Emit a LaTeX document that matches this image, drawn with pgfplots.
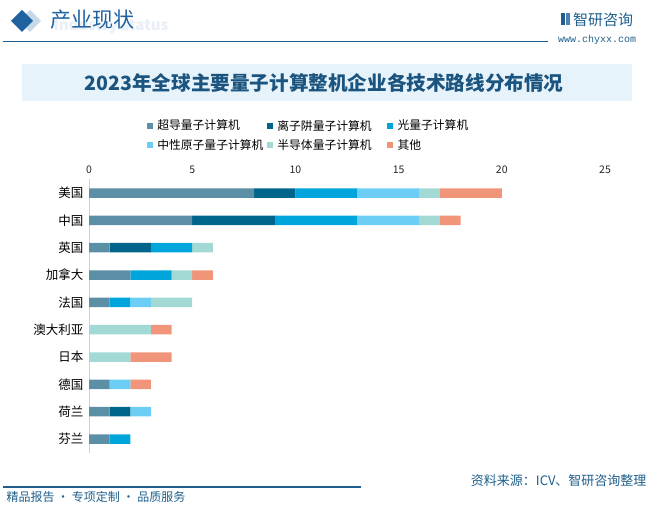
\documentclass[border=0pt]{standalone}
\usepackage{fontspec}
\setmainfont{Noto Sans CJK SC}
\newfontfamily\monoen{Liberation Mono}
\usepackage{pgfplots}
\pgfplotsset{compat=1.18}

\definecolor{cSup}{HTML}{5B8FA6}
\definecolor{cIon}{HTML}{00658A}
\definecolor{cPho}{HTML}{00A5DC}
\definecolor{cNeu}{HTML}{6DCEF5}
\definecolor{cSem}{HTML}{A3D9D5}
\definecolor{cOth}{HTML}{F0957A}
\definecolor{hdr}{HTML}{1F62A0}
\definecolor{hdrline}{HTML}{1F5F8B}
\definecolor{titlebg}{HTML}{E7F3FA}
\definecolor{titlefg}{HTML}{1B557F}

% y: 9 US, 8 China, 7 UK, 6 Canada, 5 France, 4 Australia, 3 Japan, 2 Germany, 1 Netherlands, 0 Finland
\pgfplotstableread{
y sup ion pho neu sem oth
9 8 2 3 3 1 3
8 5 4 4 3 1 1
7 1 2 2 0 1 0
6 2 0 2 0 1 1
5 1 0 1 1 2 0
4 0 0 0 0 3 1
3 0 0 0 0 2 2
2 1 0 0 1 0 1
1 1 1 0 1 0 0
0 1 0 1 0 0 0
}\routes

\newcommand\lgbox[1]{\makebox[110pt][l]{#1}}

\begin{document}
\begin{tikzpicture}[x=1pt,y=1pt]
\path[use as bounding box] (0,0) rectangle (652,506);

% header
\node[anchor=west, text=hdr!10, font=\bfseries\fontsize{15}{15}\selectfont] at (50,480) {Industry status};
\fill[hdr!25] (30,496) -- (41,485) -- (30,474) -- (19,485) -- cycle;
\fill[hdr] (22,496) -- (33,485) -- (22,474) -- (11,485) -- cycle;
\node[anchor=west, text=hdr, font=\fontsize{21}{21}\selectfont, inner sep=0pt] at (50,486) {产业现状};
\draw[hdrline, line width=1.2pt] (3,464.3) -- (548,464.3);
\fill[hdrline] (561,481) rectangle (565,493);
\fill[hdr!80] (566,481) rectangle (570,493);
\node[anchor=west, text=hdrline, font=\fontsize{15}{15}\selectfont, inner sep=0pt] at (573,486) {智研咨询};
\node[anchor=west, text=hdrline, font=\monoen\fontsize{10}{10}\selectfont, inner sep=0pt] at (558,466) {www.chyxx.com};

% title
\fill[titlebg] (22,405) rectangle (632,442);
\node[text=titlefg, font=\bfseries\fontsize{19.6}{19.6}\selectfont] at (324,423.5)
  {2023年全球主要量子计算整机企业各技术路线分布情况};

\begin{axis}[
  at={(89pt,53.3pt)}, anchor=south west,
  scale only axis, width=516pt, height=273.3pt,
  xbar stacked, bar width=9.5pt,
  xmin=0, xmax=25, ymin=-0.5, ymax=9.5,
  ytick={0,...,9},
  yticklabels={芬兰,荷兰,德国,日本,澳大利亚,法国,加拿大,英国,中国,美国},
  xtick={0,5,...,25},
  axis x line*=top, x axis line style={draw=none},
  axis y line*=left, y axis line style={draw=black!18, line width=1pt, -},
  major tick length=0pt,
  /pgf/number format/assume math mode=true,
  xticklabel style={font=\fontsize{10.5}{10.5}\selectfont, text=black!85, yshift=2pt},
  yticklabel style={font=\fontsize{12.5}{12.5}\selectfont, text=black, xshift=-2pt},
  legend columns=3,
  legend cell align=left,
  legend style={at={(0.1124,1.218)}, anchor=north west, draw=none, fill=none,
    inner sep=0pt, row sep=8pt,
    font=\fontsize{11.8}{12}\selectfont,
    nodes={inner sep=0pt},
    /tikz/every odd column/.append style={column sep=4.5pt},
    /tikz/every even column/.append style={column sep=0pt}},
  legend image code/.code={\fill[#1] (0pt,-2.8pt) rectangle (5.6pt,2.8pt);},
]
\addplot[fill=cSup, draw=none] table[x=sup, y=y] {\routes};
\addlegendentry{\lgbox{超导量子计算机}}
\addplot[fill=cIon, draw=none] table[x=ion, y=y] {\routes};
\addlegendentry{\lgbox{离子阱量子计算机}}
\addplot[fill=cPho, draw=none] table[x=pho, y=y] {\routes};
\addlegendentry{\lgbox{光量子计算机}}
\addplot[fill=cNeu, draw=none] table[x=neu, y=y] {\routes};
\addlegendentry{\lgbox{中性原子量子计算机}}
\addplot[fill=cSem, draw=none] table[x=sem, y=y] {\routes};
\addlegendentry{\lgbox{半导体量子计算机}}
\addplot[fill=cOth, draw=none] table[x=oth, y=y] {\routes};
\addlegendentry{\lgbox{其他}}
\end{axis}

% footer
\draw[hdrline, line width=1.2pt] (3,19) -- (361,19);
\node[anchor=west, text=hdrline, font=\fontsize{12}{12}\selectfont] at (3,9) {精品报告 · 专项定制 · 品质服务};
\node[anchor=east, text=hdrline, font=\fontsize{13}{13}\selectfont] at (650,25) {资料来源：ICV、智研咨询整理};
\end{tikzpicture}
\end{document}
